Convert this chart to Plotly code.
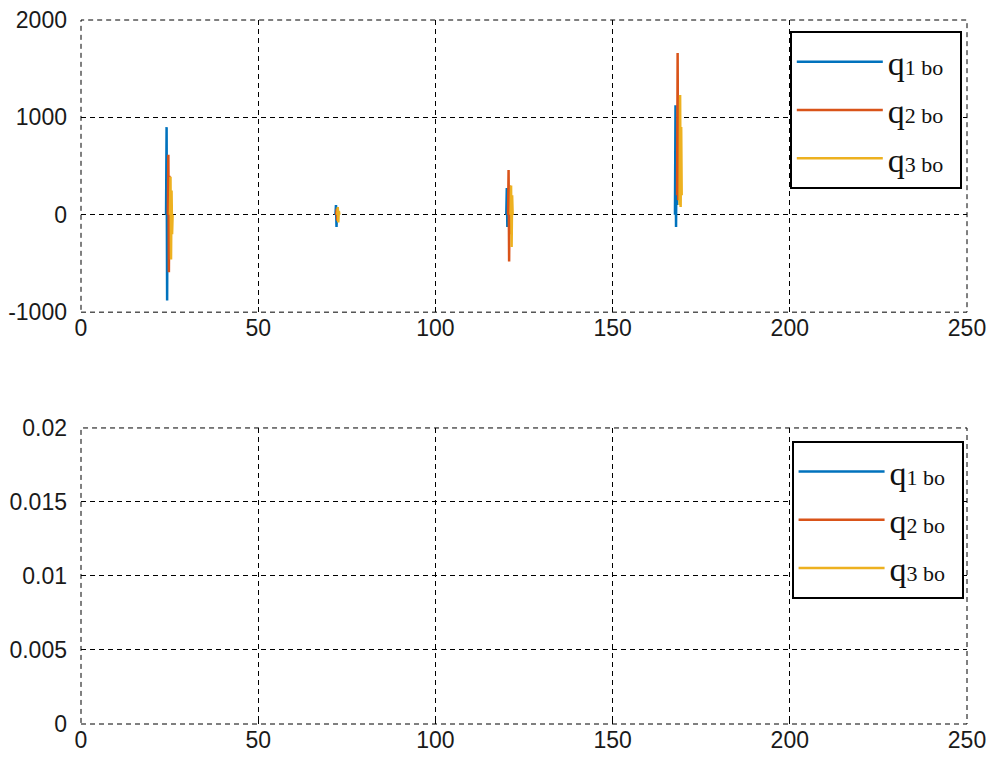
import plotly.graph_objects as go

# ---- data ----
q1_t = [24.0, 24.15, 24.3, 24.45, 24.6, 24.75, None,
        71.8, 71.95, 72.1, 72.25, 72.4, None,
        120.0, 120.15, 120.3, 120.45, 120.6, None,
        167.6, 167.75, 167.9, 168.05, 168.2, 168.35]
q1_v = [0, 900, -880, 600, -400, 0, None,
        0, 100, -125, 60, 0, None,
        0, 275, -125, 150, 0, None,
        0, 1125, -125, 800, 100, 300]

q2_t = [24.5, 24.65, 24.8, 24.95, 25.1, 25.25, None,
        72.0, 72.15, 72.3, 72.45, None,
        120.5, 120.65, 120.8, 120.95, 121.1, 121.25, None,
        168.2, 168.35, 168.5, 168.65, 168.8]
q2_v = [0, 615, -590, 400, -300, 0, None,
        0, 60, -60, 0, None,
        0, 460, -480, 300, -200, 0, None,
        200, 1660, 150, 1200, 300]

q3_t = [25.1, 25.25, 25.4, 25.55, 25.7, 25.85, None,
        72.3, 72.45, 72.6, 72.75, 72.9, None,
        121.2, 121.35, 121.5, 121.65, 121.8, None,
        168.9, 169.05, 169.2, 169.35, 169.5]
q3_v = [0, 390, -460, 250, -200, 0, None,
        0, 80, -80, 40, 0, None,
        0, 300, -330, 200, 0, None,
        100, 1230, 80, 900, 200]

names = ["q<span style='font-size:22px'>1 bo\u00a0\u00a0</span>",
         "q<span style='font-size:22px'>2 bo\u00a0\u00a0</span>",
         "q<span style='font-size:22px'>3 bo\u00a0\u00a0</span>"]
colors = ["#0072BD", "#D95319", "#EDB120"]

x_ticks = [0, 50, 100, 150, 200, 250]
y1_ticks = [-1000, 0, 1000, 2000]
y1_labels = ["-1000", "0", "1000", "2000"]
y2_ticks = [0, 0.005, 0.01, 0.015, 0.02]
y2_labels = ["0", "0.005", "0.01", "0.015", "0.02"]

fig = go.Figure()
series = [(q1_t, q1_v), (q2_t, q2_v), (q3_t, q3_v)]
for i, (t, v) in enumerate(series):
    fig.add_trace(go.Scatter(x=t, y=v, mode="lines", name=names[i],
                             line=dict(color=colors[i], width=2.5),
                             xaxis="x", yaxis="y", legend="legend",
                             legendgroup="a%d" % i, connectgaps=False))
for i in range(3):
    fig.add_trace(go.Scatter(x=[None], y=[None], mode="lines", name=names[i],
                             line=dict(color=colors[i], width=2.5),
                             xaxis="x2", yaxis="y2", legend="legend2",
                             legendgroup="b%d" % i))

tickfont = dict(family="Liberation Sans, Arial", size=23, color="#1a1a1a")
axcommon = dict(showgrid=True, gridcolor="#000000", gridwidth=1, griddash="5px,4px",
                zeroline=False, showline=False, ticks="inside", ticklen=5,
                tickcolor="#000000", tickfont=tickfont)

legcommon = dict(bgcolor="white", bordercolor="black", borderwidth=2,
                 font=dict(family="Liberation Serif, Times New Roman", size=34, color="#111111"),
                 itemwidth=86, tracegroupgap=1, traceorder="grouped",
                 xanchor="left", yanchor="top")

fig.update_layout(
    width=997, height=758,
    margin=dict(l=81, r=30, t=20, b=34, autoexpand=False),
    paper_bgcolor="white", plot_bgcolor="white",
    showlegend=True,
    xaxis=dict(domain=[0, 1], range=[0, 250], tickvals=x_ticks, anchor="y", **axcommon),
    yaxis=dict(domain=[0.585, 1], range=[-1000, 2000], tickvals=y1_ticks, ticktext=y1_labels,
               anchor="x", ticklabelstandoff=13, **axcommon),
    xaxis2=dict(domain=[0, 1], range=[0, 250], tickvals=x_ticks, anchor="y2", **axcommon),
    yaxis2=dict(domain=[0, 0.4205], range=[0, 0.02], tickvals=y2_ticks, ticktext=y2_labels,
                anchor="x2", ticklabelstandoff=13, **axcommon),
    legend=dict(x=0.800, y=0.984, **legcommon),
    legend2=dict(x=0.802, y=0.402, **legcommon),
)

for ax in ["", "2"]:
    fig.add_shape(type="rect", xref="x%s domain" % ax, yref="y%s domain" % ax,
                  x0=0, x1=1, y0=0, y1=1, layer="below",
                  line=dict(color="black", width=1, dash="5px,4px"))

fig.write_html("out.html")
